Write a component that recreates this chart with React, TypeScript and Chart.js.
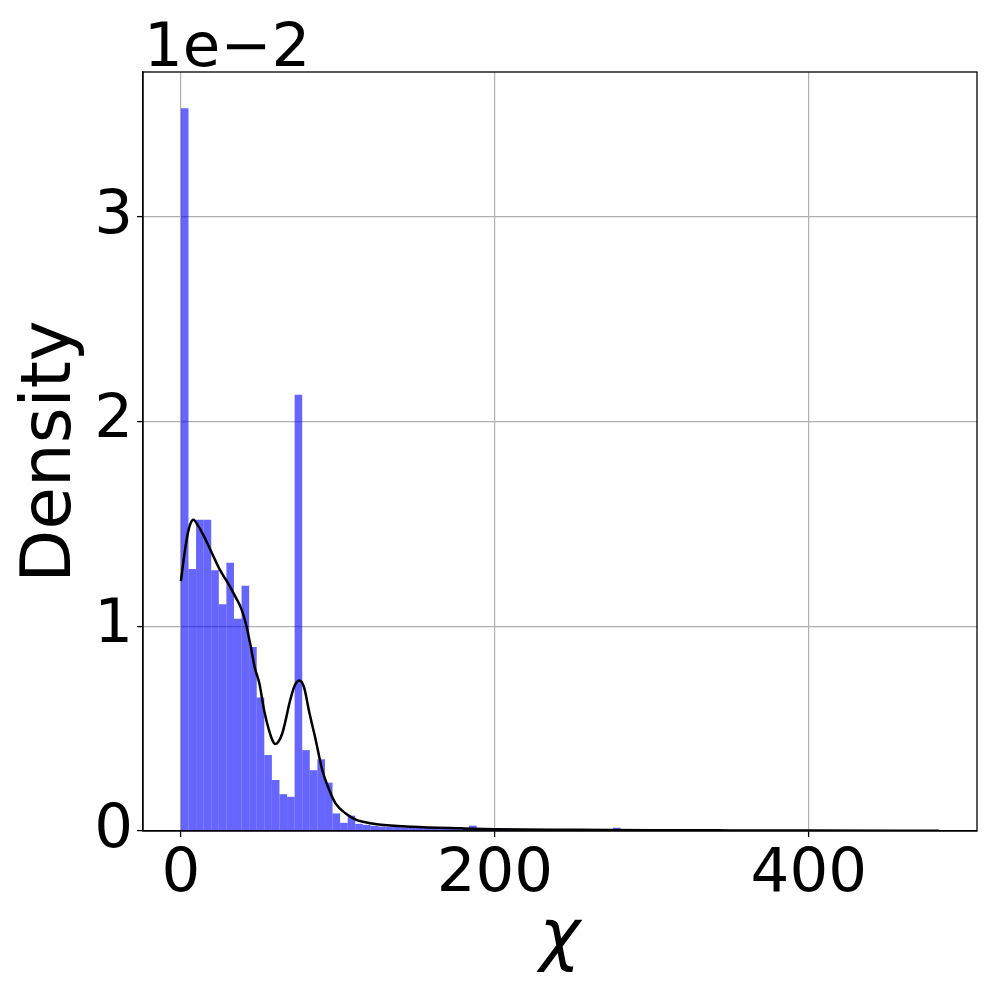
import React, { useEffect, useRef } from "react";
import { Chart, registerables } from "chart.js";

Chart.register(...registerables);

// Histogram: 100 bins from 0 to DATA_MAX (density values in units of 1e-2)
const DATA_MAX = 483;
const BIN_COUNT = 100;
const histValues: number[] = [
  3.53, 1.28, 1.52, 1.52, 1.273, 1.107, 1.31, 1.037, 1.198, 0.898,
  0.652, 0.371, 0.249, 0.18, 0.167, 2.13, 0.395, 0.297, 0.35, 0.236,
  0.086, 0.04, 0.075, 0.035, 0.03, 0.025, 0.022, 0.02, 0.024, 0.018,
  0.017, 0.016, 0.015, 0.014, 0.013, 0.013, 0.012, 0.012, 0.026, 0.011,
  0.01, 0.009, 0.009, 0.008, 0.008, 0.007, 0.007, 0.006, 0.006, 0.006,
  0.005, 0.005, 0.005, 0.005, 0.005, 0.004, 0.004, 0.016, 0.004, 0.004,
  0.004, 0.003, 0.003, 0.003, 0.003, 0.003, 0.003, 0.003, 0.002, 0.002,
  0.002, 0.002, 0.002, 0.002, 0.002, 0.002, 0.002, 0.002, 0.002, 0.002,
  0.002, 0.002, 0.002, 0.002, 0.002, 0.002, 0.002, 0.002, 0.002, 0.002,
  0.002, 0.002, 0.002, 0.002, 0.002, 0.002, 0.002, 0.002, 0.002, 0.002,
];

// KDE curve sample points (x = χ, y in units of 1e-2)
const kdeX: number[] = [
  0, 2.2, 4.3, 6, 8, 11, 14, 19, 24.5, 30, 35, 38.5, 41.5, 44.5, 47, 50, 53,
  56, 58.5, 60, 62, 64.5, 67, 69, 72.5, 75.5, 78.5, 81.5, 86, 90, 94.5, 98.5,
  105, 111, 116, 126, 147, 179, 200, 250, 300, 350, 400, 483,
];
const kdeY: number[] = [
  1.22, 1.35, 1.45, 1.5, 1.52, 1.49, 1.45, 1.37, 1.28, 1.21, 1.14, 1.085,
  1.01, 0.9, 0.8, 0.72, 0.59, 0.495, 0.44, 0.425, 0.435, 0.475, 0.55, 0.62,
  0.71, 0.735, 0.7, 0.59, 0.44, 0.3, 0.2, 0.135, 0.085, 0.057, 0.045, 0.032,
  0.021, 0.013, 0.009, 0.006, 0.004, 0.003, 0.002, 0.001,
];

const xTicks: number[] = [0, 200, 400];
const yTicks: number[] = [0, 1, 2, 3];
const xLabel = "χ";
const yLabel = "Density";
const offsetLabel = "1e\u22122";

const FONT = "'DejaVu Sans', 'Liberation Sans', sans-serif";

export default function App() {
  const canvasRef = useRef<HTMLCanvasElement | null>(null);

  useEffect(() => {
    const canvas = canvasRef.current;
    if (!canvas) return;

    const binWidth = DATA_MAX / BIN_COUNT;
    const histData = histValues.map((v, i) => ({ x: (i + 0.5) * binWidth, y: v }));
    const kdeData = kdeX.map((x, i) => ({ x, y: kdeY[i] }));
    const margin = DATA_MAX * 0.05;
    const yMax = Math.max(...histValues) * 1.05;

    const framePlugin = {
      id: "frame",
      afterDatasetsDraw(chart: any) {
        const { ctx, chartArea } = chart;
        ctx.save();
        ctx.strokeStyle = "#000";
        ctx.lineWidth = 1.3;
        ctx.strokeRect(chartArea.left, chartArea.top, chartArea.right - chartArea.left, chartArea.bottom - chartArea.top);
        ctx.fillStyle = "#000";
        ctx.font = `61px ${FONT}`;
        ctx.textAlign = "left";
        ctx.textBaseline = "alphabetic";
        ctx.fillText(offsetLabel, chartArea.left + 1, chartArea.top - 6);
        ctx.restore();
      },
    };

    const chart = new Chart(canvas, {
      type: "bar",
      data: {
        datasets: [
          {
            type: "line",
            data: kdeData,
            borderColor: "#000",
            borderWidth: 2.5,
            pointRadius: 0,
            cubicInterpolationMode: "monotone",
            fill: false,
            order: 0,
          } as any,
          {
            type: "bar",
            data: histData,
            backgroundColor: "rgba(0,0,255,0.6)",
            borderWidth: 0,
            inflateAmount: 0,
            barPercentage: 1,
            categoryPercentage: 1,
            order: 1,
          } as any,
        ],
      },
      options: {
        animation: false,
        responsive: false,
        devicePixelRatio: 1,
        layout: { padding: { left: 0, top: 72, right: 20, bottom: 0 } },
        plugins: { legend: { display: false }, tooltip: { enabled: false } },
        scales: {
          x: {
            type: "linear",
            offset: false,
            min: -margin,
            max: DATA_MAX + margin,
            afterFit: (scale: any) => {
              scale.height = 166;
            },
            afterBuildTicks: (scale: any) => {
              scale.ticks = xTicks.map((v) => ({ value: v }));
            },
            grid: {
              offset: false,
              color: "#b0b0b0",
              lineWidth: 1.2,
              drawTicks: true,
              tickLength: 6,
              tickColor: "#000",
              tickWidth: 1.3,
            },
            border: { display: true, color: "#000", width: 1.3 },
            ticks: {
              color: "#000",
              font: { family: FONT, size: 61 },
              padding: 2,
              maxRotation: 0,
              callback: (v: any) => String(v),
            },
            title: {
              display: true,
              text: xLabel,
              color: "#000",
              font: { family: FONT, size: 69, style: "italic" },
              padding: { top: 0, bottom: 16 },
            },
          },
          y: {
            type: "linear",
            min: 0,
            max: yMax,
            afterFit: (scale: any) => {
              scale.width = 143;
            },
            afterBuildTicks: (scale: any) => {
              scale.ticks = yTicks.map((v) => ({ value: v }));
            },
            grid: {
              color: "#b0b0b0",
              lineWidth: 1.2,
              drawTicks: true,
              tickLength: 6,
              tickColor: "#000",
              tickWidth: 1.3,
            },
            border: { display: true, color: "#000", width: 1.3 },
            ticks: {
              color: "#000",
              font: { family: FONT, size: 61 },
              padding: 4,
              callback: (v: any) => String(v),
            },
            title: {
              display: true,
              text: yLabel,
              color: "#000",
              font: { family: FONT, size: 69 },
              padding: { top: 11, bottom: 0 },
            },
          },
        },
      },
      plugins: [framePlugin],
    });

    return () => {
      chart.destroy();
    };
  }, []);

  return (
    <div style={{ position: "absolute", left: 0, top: 0, width: 997, height: 997, background: "#fff" }}>
      <canvas ref={canvasRef} width={997} height={997} style={{ width: 997, height: 997 }} />
    </div>
  );
}
